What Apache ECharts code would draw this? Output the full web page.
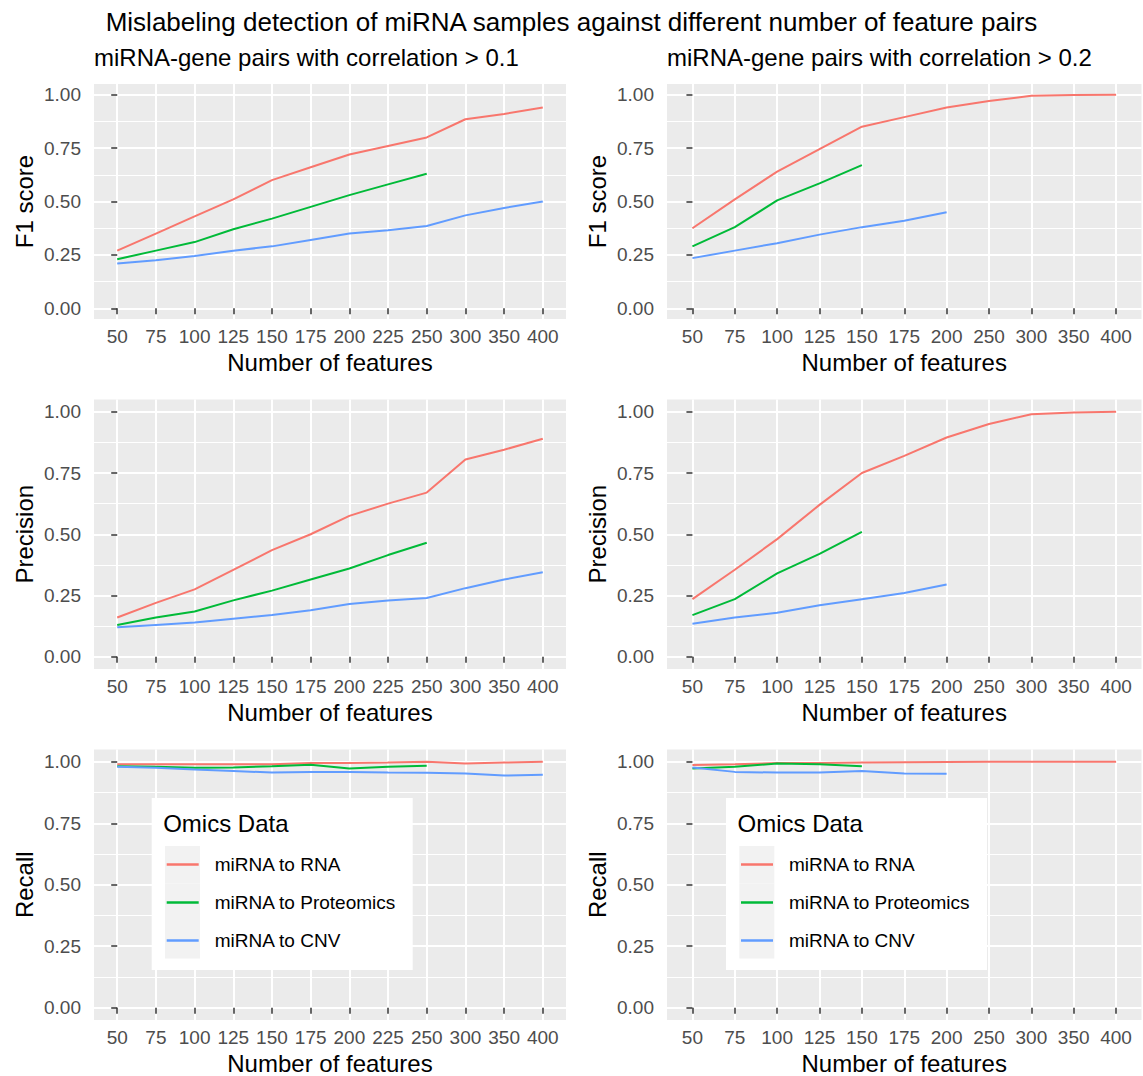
<!DOCTYPE html>
<html><head><meta charset="utf-8">
<script src="https://cdn.jsdelivr.net/npm/echarts@6/dist/echarts.min.js"></script>
<style>html,body{margin:0;padding:0;background:#fff}#c{width:1143px;height:1076px}</style>
</head><body><div id="c"></div>
<script>
// ---------- data ----------
const catsLeft  = ['50','75','100','125','150','175','200','225','250','300','350','400'];
const catsRight = ['50','75','100','125','150','175','200','250','300','350','400'];
const yTicks = [0, 0.25, 0.5, 0.75, 1];
const yMinor = [0.125, 0.375, 0.625, 0.875];
const seriesNames = ['miRNA to RNA', 'miRNA to Proteomics', 'miRNA to CNV'];

// F1 score
const f1L_RNA  = [0.27, 0.35, 0.43, 0.51, 0.60, 0.66, 0.72, 0.76, 0.80, 0.885, 0.91, 0.94];
const f1L_Prot = [0.23, 0.27, 0.31, 0.37, 0.42, 0.475, 0.53, 0.58, 0.63];
const f1L_CNV  = [0.21, 0.225, 0.245, 0.27, 0.29, 0.32, 0.35, 0.365, 0.385, 0.435, 0.47, 0.50];
const f1R_RNA  = [0.375, 0.51, 0.64, 0.745, 0.85, 0.895, 0.94, 0.97, 0.995, 0.998, 1.0];
const f1R_Prot = [0.29, 0.38, 0.505, 0.585, 0.67];
const f1R_CNV  = [0.235, 0.27, 0.305, 0.345, 0.38, 0.41, 0.45];
// Precision
const precL_RNA  = [0.16, 0.22, 0.275, 0.355, 0.435, 0.50, 0.575, 0.625, 0.67, 0.805, 0.845, 0.89];
const precL_Prot = [0.13, 0.16, 0.185, 0.23, 0.27, 0.315, 0.36, 0.415, 0.465];
const precL_CNV  = [0.12, 0.13, 0.14, 0.155, 0.17, 0.19, 0.215, 0.23, 0.24, 0.28, 0.315, 0.345];
const precR_RNA  = [0.235, 0.355, 0.48, 0.62, 0.75, 0.82, 0.895, 0.95, 0.99, 0.997, 1.0];
const precR_Prot = [0.17, 0.235, 0.34, 0.42, 0.51];
const precR_CNV  = [0.135, 0.16, 0.18, 0.21, 0.235, 0.26, 0.295];
// Recall
const recL_RNA  = [0.99, 0.99, 0.99, 0.99, 0.99, 0.995, 0.995, 0.997, 1.0, 0.993, 0.997, 1.0];
const recL_Prot = [0.982, 0.98, 0.976, 0.977, 0.982, 0.988, 0.973, 0.98, 0.984];
const recL_CNV  = [0.98, 0.976, 0.969, 0.963, 0.956, 0.958, 0.958, 0.956, 0.955, 0.952, 0.944, 0.947];
const recR_RNA  = [0.987, 0.99, 0.995, 0.995, 0.997, 0.998, 0.999, 1.0, 1.0, 1.0, 1.0];
const recR_Prot = [0.973, 0.98, 0.993, 0.99, 0.982];
const recR_CNV  = [0.977, 0.959, 0.956, 0.956, 0.963, 0.952, 0.951];

const mainTitle = 'Mislabeling detection of miRNA samples against different number of feature pairs';
const subLeft = 'miRNA-gene pairs with correlation > 0.1';
const subRight = 'miRNA-gene pairs with correlation > 0.2';
const xName = 'Number of features';
const legendTitle = 'Omics Data';

// ---------- layout / style ----------
const colors = ['#F8766D', '#00BA38', '#619CFF'];
const FONT = '"Liberation Sans", Arial, Helvetica, sans-serif';
const colL = {left: 94, width: 472};
const colR = {left: 667, width: 474.5};
const rows = [{top: 84, height: 235}, {top: 399.5, height: 269.5}, {top: 749.5, height: 270.5}];

const panels = [
  {col: colL, row: rows[0], cats: catsLeft,  yName: 'F1 score',  data: [f1L_RNA, f1L_Prot, f1L_CNV]},
  {col: colR, row: rows[0], cats: catsRight, yName: 'F1 score',  data: [f1R_RNA, f1R_Prot, f1R_CNV]},
  {col: colL, row: rows[1], cats: catsLeft,  yName: 'Precision', data: [precL_RNA, precL_Prot, precL_CNV]},
  {col: colR, row: rows[1], cats: catsRight, yName: 'Precision', data: [precR_RNA, precR_Prot, precR_CNV]},
  {col: colL, row: rows[2], cats: catsLeft,  yName: 'Recall',    data: [recL_RNA, recL_Prot, recL_CNV]},
  {col: colR, row: rows[2], cats: catsRight, yName: 'Recall',    data: [recR_RNA, recR_Prot, recR_CNV]}
];

const grid = [], xAxis = [], yAxis = [], series = [];
panels.forEach((p, i) => {
  grid.push({left: p.col.left, top: p.row.top, width: p.col.width, height: p.row.height,
    show: true, backgroundColor: '#EBEBEB', borderWidth: 0, containLabel: false, outerBoundsMode: 'none'});
  const idx = p.cats.map((_, k) => k);
  xAxis.push({
    type: 'value', gridIndex: i, min: -0.6, max: p.cats.length - 0.4,
    axisLine: {show: false},
    axisTick: {show: true, length: 6, lineStyle: {color: '#333333', width: 1.5}, customValues: idx},
    axisLabel: {customValues: idx, formatter: v => p.cats[Math.round(v)], color: '#4D4D4D',
      fontSize: 19, margin: 8, fontFamily: FONT},
    splitLine: {show: true, lineStyle: {color: '#FFFFFF', width: 2}},
    name: xName, nameLocation: 'middle', nameGap: 31,
    nameTextStyle: {fontSize: 24, color: '#000', fontFamily: FONT}
  });
  yAxis.push({
    type: 'value', gridIndex: i, min: -0.05, max: 1.05,
    axisLine: {show: false},
    axisTick: {show: true, length: 6, lineStyle: {color: '#333333', width: 1.5}, customValues: yTicks},
    axisLabel: {customValues: yTicks, formatter: v => v.toFixed(2), color: '#4D4D4D',
      fontSize: 19, margin: 13, fontFamily: FONT},
    splitLine: {show: true, lineStyle: {color: '#FFFFFF', width: 2}},
    name: p.yName, nameLocation: 'middle', nameGap: 58,
    nameTextStyle: {fontSize: 24, color: '#000', fontFamily: FONT}
  });
  yAxis.push({
    type: 'value', gridIndex: i, position: 'left', min: -0.05, max: 1.05,
    axisLine: {show: false},
    axisTick: {show: false, customValues: yMinor},
    axisLabel: {show: false, customValues: yMinor},
    splitLine: {show: true, lineStyle: {color: '#FFFFFF', width: 1}}
  });
  p.data.forEach((arr, s) => {
    series.push({
      type: 'line', name: seriesNames[s], xAxisIndex: i, yAxisIndex: 2 * i,
      data: arr.map((v, k) => [k, v]), showSymbol: false, symbol: 'none',
      lineStyle: {color: colors[s], width: 2}, itemStyle: {color: colors[s]},
      z: 3
    });
  });
});

// legends (inside bottom panels)
const legendBoxes = [{left: 151.7, top: 798}, {left: 726, top: 798}];
const graphic = [];
const legend = [];
const titles = [
  {text: mainTitle, left: 'center', top: 9, padding: 0,
   textStyle: {fontSize: 26, fontWeight: 'normal', color: '#000', fontFamily: FONT}},
  {text: subLeft, left: colL.left, top: 45, padding: 0,
   textStyle: {fontSize: 24, fontWeight: 'normal', color: '#000', fontFamily: FONT}},
  {text: subRight, left: colR.left, top: 45, padding: 0,
   textStyle: {fontSize: 24, fontWeight: 'normal', color: '#000', fontFamily: FONT}}
];
legendBoxes.forEach(b => {
  graphic.push({type: 'rect', left: b.left, top: b.top, silent: true, z: 5,
    shape: {width: 261, height: 172}, style: {fill: '#FFFFFF'}});
  for (let k = 0; k < 3; k++) {
    graphic.push({type: 'rect', left: b.left + 13.3, top: b.top + 48 + k * 37.5, silent: true, z: 6,
      shape: {width: 35, height: 37.5}, style: {fill: '#F2F2F2'}});
  }
  titles.push({text: legendTitle, left: b.left + 11.5, top: b.top + 13, padding: 0, z: 8,
    textStyle: {fontSize: 24, fontWeight: 'normal', color: '#000', fontFamily: FONT}});
  legend.push({data: seriesNames, orient: 'vertical', left: b.left + 15, top: b.top + 57,
    padding: 0, itemWidth: 32, itemHeight: 2.5, itemGap: 19, icon: 'rect', selectedMode: false, z: 7,
    textStyle: {fontSize: 19, lineHeight: 19, color: '#000', fontFamily: FONT, padding: [0, 0, 0, 11]}});
});

const chart = echarts.init(document.getElementById('c'), null, {renderer: 'svg'});
chart.setOption({
  animation: false,
  backgroundColor: '#FFFFFF',
  textStyle: {fontFamily: FONT},
  title: titles,
  grid: grid, xAxis: xAxis, yAxis: yAxis, series: series,
  legend: legend, graphic: graphic
});
</script>
</body></html>
